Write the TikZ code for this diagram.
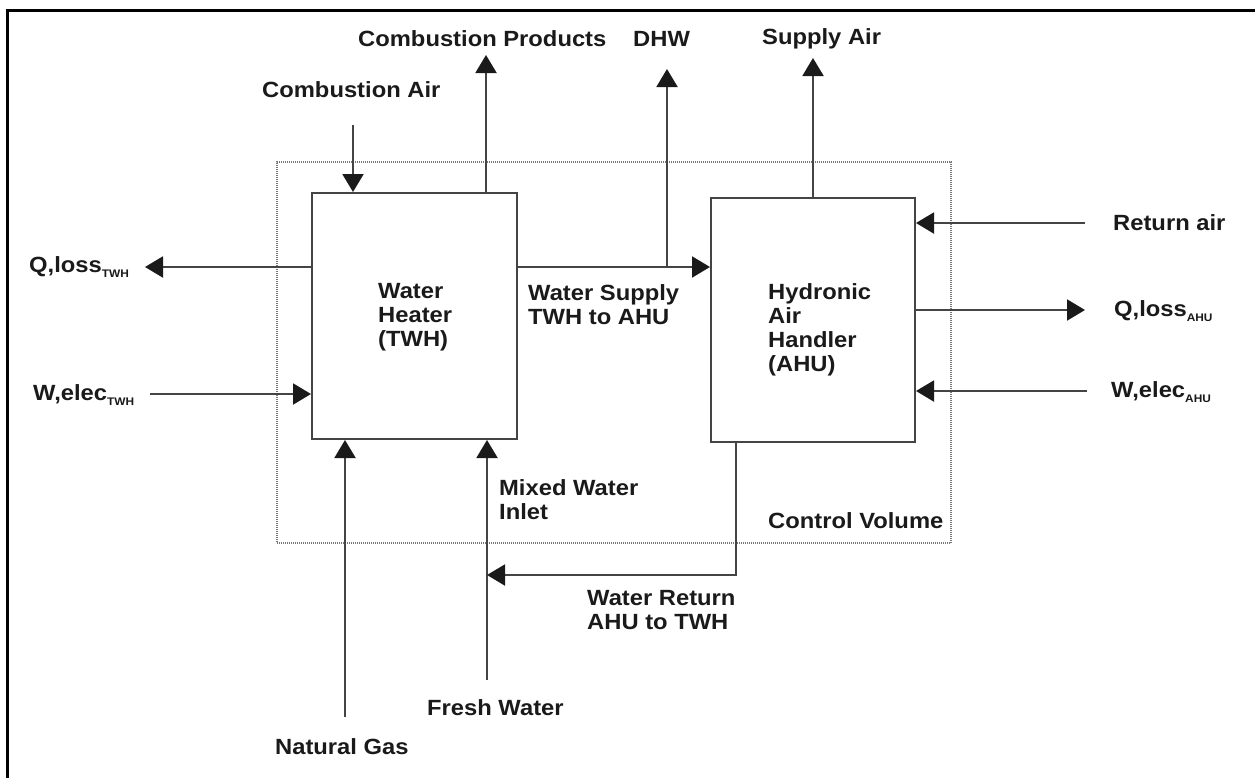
\documentclass[tikz,border=0pt]{standalone}
\usepackage{fontspec}
\setmainfont{Liberation Sans}[FakeStretch=1.08]
\usetikzlibrary{arrows.meta}
\definecolor{ink}{HTML}{1A1A1A}
\definecolor{ln}{HTML}{444444}
\definecolor{tipc}{HTML}{1A1A1A}
\definecolor{cvc}{HTML}{777777}
\newcommand\sbs[1]{\raisebox{-0.45ex}{\fontsize{11}{11}\selectfont #1}}
\begin{document}
\begin{tikzpicture}[x=1pt,y=-1pt,
  lbl/.style={font=\fontsize{22}{24}\selectfont\bfseries, text=ink, inner sep=0pt, anchor=west, align=left},
  blk/.style={draw=ln, line width=2pt, inner sep=0pt, fill=white},
  cvbox/.style={draw=cvc, line width=1.5pt, dash pattern=on 1pt off 1pt, inner sep=0pt},
  flow/.style={draw=ln, line width=2pt, -{Triangle[length=18pt,width=21pt,color=tipc]}},
  frameline/.style={draw=black, line width=3pt}]
\useasboundingbox (0,0) rectangle (1255,777);
% outer frame (only left and top edges visible)
\draw[frameline] (7,800) -- (7,10) -- (1280,10);
% control volume
\node[cvbox, minimum width=674pt, minimum height=381pt] (cv) at (614,352.5) {};
% blocks
\node[blk, minimum width=205pt, minimum height=246pt] (twh) at (414.5,316) {};
\node[blk, minimum width=204pt, minimum height=244pt] (ahu) at (813,320) {};
% texts in blocks
\node[lbl] (twhtxt) at (378,317) {Water\\Heater\\(TWH)};
\node[lbl] (ahutxt) at (768,330) {Hydronic\\Air\\Handler\\(AHU)};
% labels
\node[lbl] (lca) at (262,90) {Combustion Air};
\node[lbl] (lcp) at (358,39) {Combustion Products};
\node[lbl] (ldhw) at (633,39) {DHW};
\node[lbl] (lsa) at (762,39) {Supply Air};
\node[lbl] (lra) at (1113,223) {Return air};
\node[lbl] (lqt) at (29,267) {Q,loss\sbs{TWH}};
\node[lbl] (lwt) at (33,395) {W,elec\sbs{TWH}};
\node[lbl] (lqa) at (1114,311) {Q,loss\sbs{AHU}};
\node[lbl] (lwa) at (1111,392) {W,elec\sbs{AHU}};
\node[lbl] (lws) at (528,305) {Water Supply\\TWH to AHU};
\node[lbl] (lmw) at (499,500) {Mixed Water\\Inlet};
\node[lbl] (lwr) at (587,610) {Water Return\\AHU to TWH};
\node[lbl] (lcv) at (768,521) {Control Volume};
\node[lbl] (lfw) at (427,708) {Fresh Water};
\node[lbl] (lng) at (275,747) {Natural Gas};
% free ends
\coordinate (ca) at (353,125);
\coordinate (cp) at (486,55);
\coordinate (dhw) at (667,69);
\coordinate (sa) at (813,58);
\coordinate (ws) at (517,267);
\coordinate (qt) at (145,267);
\coordinate (wt) at (150,394);
\coordinate (ra) at (1085,223);
\coordinate (qa) at (1085,310);
\coordinate (wa) at (1087,391);
\coordinate (ng) at (345,717);
\coordinate (fw) at (487,680);
\coordinate (wr) at (736,575);
% connectors
\draw[flow] (ca) -- (ca |- twh.north);
\draw[flow] (cp |- twh.north) -- (cp);
\draw[flow] (sa |- ahu.north) -- (sa);
\draw[flow] (ws) -- (ws -| ahu.west);
\draw[flow] (dhw |- ws) -- (dhw);
\draw[flow] (qt -| twh.west) -- (qt);
\draw[flow] (wt) -- (wt -| twh.west);
\draw[flow] (ra) -- (ra -| ahu.east);
\draw[flow] (qa -| ahu.east) -- (qa);
\draw[flow] (wa) -- (wa -| ahu.east);
\draw[flow] (ng) -- (ng |- twh.south);
\draw[flow] (fw) -- (fw |- twh.south);
\draw[flow] (wr |- ahu.south) -- (wr) -- (fw |- wr);
\end{tikzpicture}
\end{document}
